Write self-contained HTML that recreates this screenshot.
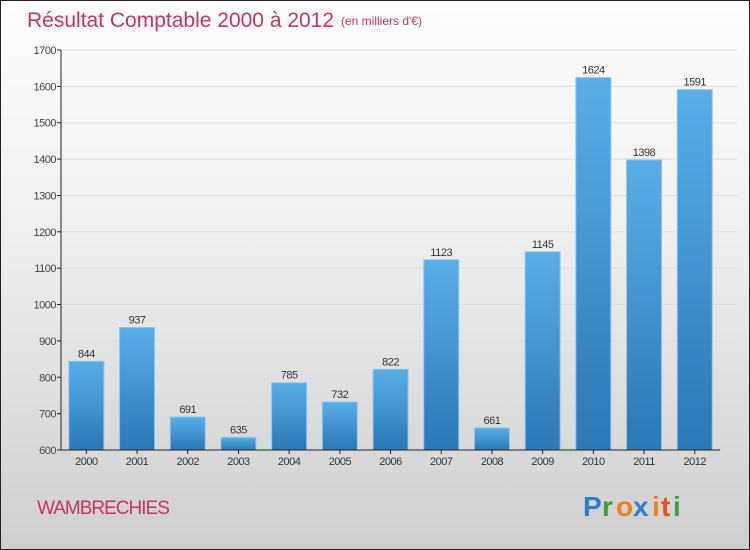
<!DOCTYPE html>
<html><head><meta charset="utf-8"><style>
html,body{margin:0;padding:0}
body{width:750px;height:550px;overflow:hidden;font-family:"Liberation Sans",sans-serif}
#frame{position:absolute;left:0;top:0;width:748px;height:548px;border:1px solid #222;background:linear-gradient(#fefefe,#f0f0f0 40%,#cfcfcf)}
</style></head><body>
<div id="frame"></div>
<svg id="c" width="750" height="550" style="position:absolute;left:0;top:0">
<defs><linearGradient id="bg" x1="0" y1="0" x2="0" y2="1"><stop offset="0" stop-color="#5aaee8"/><stop offset="1" stop-color="#2a78b5"/></linearGradient></defs>
<text x="27" y="27" font-size="21" fill="#c8335e">Résultat Comptable 2000 à 2012</text>
<text x="341" y="25" font-size="12" fill="#c8335e">(en milliers d'€)</text>
<text x="37" y="514" font-size="19" fill="#c8335e" letter-spacing="-1">WAMBRECHIES</text>
<g font-size="28" font-weight="bold">
<text x="583" y="516" fill="#2b7fd0">P</text><text x="602" y="516" fill="#3aa040">r</text><text x="616" y="516" fill="#f08020">o</text><text x="633" y="516" fill="#2b7fd0">x</text><text x="652" y="516" fill="#f08020">i</text><text x="661" y="516" fill="#e05020">t</text><text x="673" y="516" fill="#3aa040">i</text>
</g>
<g id="plot"></g>
</svg>
<script>
const categories=["2000","2001","2002","2003","2004","2005","2006","2007","2008","2009","2010","2011","2012"];
const values=[844,937,691,635,785,732,822,1123,661,1145,1624,1398,1591];
const yTicks=[600,700,800,900,1000,1100,1200,1300,1400,1500,1600,1700];
const NS="http://www.w3.org/2000/svg";
const g=document.getElementById('plot');
const x0=61,band=50.7,yBase=450,yTop=50,vMin=600,vMax=1700;
const y=v=>yBase-(v-vMin)/(vMax-vMin)*(yBase-yTop);
const xc=i=>x0+band*(i+0.5);
function mk(t,a){const e=document.createElementNS(NS,t);for(const k in a)e.setAttribute(k,a[k]);g.appendChild(e);return e;}
yTicks.forEach(t=>{
 const l=mk('line',{x1:x0,x2:737,y1:y(t),y2:y(t),stroke:'#ddd','stroke-width':1});
 
 
 const tk=mk('line',{x1:x0-4,x2:x0,y1:y(t),y2:y(t),stroke:'#222'});
 
 
 const tx=mk('text',{x:x0-5,y:y(t)+4,'font-size':11,fill:'#444','text-anchor':'end','letter-spacing':'-0.5'});
 tx.textContent=t;
 
 
});
categories.forEach((c,i)=>{
 const bw=35,top=y(values[i]);
 const r=mk('rect',{x:xc(i)-bw/2,y:top,width:bw,height:yBase-top,fill:'url(#bg)',stroke:'#8cc8f0','stroke-width':1});
 
 
 const v=mk('text',{x:xc(i),y:top-4,'font-size':11,fill:'#333','text-anchor':'middle','letter-spacing':'-0.5'});
 v.textContent=values[i];
 
 
 const tk=mk('line',{x1:xc(i),x2:xc(i),y1:yBase,y2:yBase+4,stroke:'#222'});
 
 
 const l=mk('text',{x:xc(i),y:yBase+15,'font-size':11,fill:'#333','text-anchor':'middle','letter-spacing':'-0.5'});
 l.textContent=c;
 
 
});
const ya=mk('line',{x1:x0,x2:x0,y1:yTop,y2:yBase,stroke:'#222'});


const xa=mk('line',{x1:x0,x2:x0+band*13,y1:yBase,y2:yBase,stroke:'#222'});


</script>
</body></html>
